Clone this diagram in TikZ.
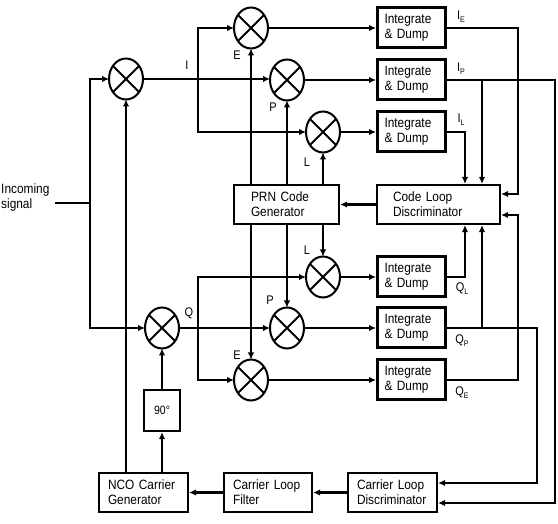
\documentclass[tikz,border=0pt]{standalone}
\usepackage{fontspec}
\setmainfont{Liberation Sans}[FakeStretch=0.88]
\usetikzlibrary{shapes.geometric,arrows.meta,calc}
\newcommand\sublab[2]{#1\raisebox{-3pt}{\fontsize{8}{8}\selectfont #2}}
\begin{document}
\begin{tikzpicture}[x=1pt,y=-1pt,
  every node/.style={font=\fontsize{13.5}{15}\selectfont},
  conn/.style={line width=2.5pt},
  arr/.style={conn,-{Latex[length=7pt,width=6.5pt]}},
  mixer/.style={ellipse,draw,line width=2pt,minimum width=34pt,minimum height=41pt,inner sep=0pt,outer sep=0pt},
  idbox/.style={draw,line width=3pt,minimum height=40pt,align=left,text width=54pt,inner xsep=7pt,inner ysep=0pt},
  blk/.style={draw,line width=2.2pt,minimum height=39pt,align=left,inner ysep=0pt},
  lbl/.style={inner sep=0pt,font=\fontsize{12.5}{14}\selectfont}]
\useasboundingbox (0,0) rectangle (558,524);

% mixers
\node[mixer] (mI)  at (126,79) {};
\node[mixer] (mQ)  at (162,328) {};
\node[mixer] (mEu) at (251,28) {};
\node[mixer] (mPu) at (287,80) {};
\node[mixer] (mLu) at (323,132) {};
\node[mixer] (mLd) at (323,277) {};
\node[mixer] (mPd) at (287,328) {};
\node[mixer] (mEd) at (251,380) {};
\foreach \m in {mI,mQ,mEu,mPu,mLu,mLd,mPd,mEd}{
  \draw[line width=2pt] (\m.45) -- (\m.225) (\m.135) -- (\m.315);
}

% integrate & dump boxes
\node[idbox] (idE)  at (411.5,28)  {Integrate\\\& Dump};
\node[idbox] (idP)  at (411.5,80)  {Integrate\\\& Dump};
\node[idbox] (idL)  at (411.5,132) {Integrate\\\& Dump};
\node[idbox] (idQL) at (411.5,277) {Integrate\\\& Dump};
\node[idbox] (idQP) at (411.5,328) {Integrate\\\& Dump};
\node[idbox] (idQE) at (411.5,380) {Integrate\\\& Dump};

% other blocks
\node[blk,text width=71pt,inner xsep=17pt] (prn) at (286.5,204.5) {PRN Code\\Generator};
\node[blk,text width=91pt,inner xsep=16pt] (cld) at (438.5,204.5) {Code Loop\\Discriminator};
\node[blk,text width=71pt,inner xsep=9pt] (cldisc) at (392.5,492.5) {Carrier Loop\\Discriminator};
\node[blk,text width=70pt,inner xsep=9pt] (clf) at (268,492.5) {Carrier Loop\\Filter};
\node[blk,text width=71pt,inner xsep=9pt] (nco) at (143.5,492.5) {NCO Carrier\\Generator};
\node[blk,minimum width=36pt,minimum height=41pt,inner sep=0pt,align=center,font=\fontsize{12}{14}\selectfont] (n90) at (162,410.5) {90°};

% incoming signal
\node[anchor=west,inner xsep=1pt,inner ysep=0pt,align=left] (inc) at (0,197.5) {Incoming\\signal};
\coordinate (inS) at (55,203);
\coordinate (jIn) at (90,203);
\draw[conn] (inS) -- (jIn);
\draw[arr] (jIn) |- (mI);
\draw[arr] (jIn) |- (mQ);

% I branch
\coordinate (jI) at (198,79);
\draw[arr] (mI) -- (mPu.west |- mI);
\draw[arr] (jI) |- (mEu);
\draw[arr] (jI) |- (mLu);
% Q branch
\coordinate (jQ) at (198,328);
\draw[arr] (mQ) -- (mPd);
\draw[arr] (jQ) |- (mLd);
\draw[arr] (jQ) |- (mEd);

% mixers to I&D
\draw[arr] (mEu) -- (idE);
\draw[arr] (mPu) -- (idP);
\draw[arr] (mLu) -- (idL);
\draw[arr] (mLd) -- (idQL);
\draw[arr] (mPd) -- (idQP);
\draw[arr] (mEd) -- (idQE);

% PRN code replicas
\draw[arr] (prn.north -| mEu) -- (mEu);
\draw[arr] (prn.north -| mPu) -- (mPu);
\draw[arr] (prn.north -| mLu) -- (mLu);
\draw[arr] (prn.south -| mEd) -- (mEd);
\draw[arr] (prn.south -| mPd) -- (mPd);
\draw[arr] (prn.south -| mLd) -- (mLd);
\draw[arr] (cld) -- (prn);

% I&D outputs
\draw[arr] (idE.east) -| (518,194) -- (cld.east |- 0,194);
\draw[arr] (idP.east) -| (555,503) -- (cldisc.east |- 0,503);
\draw[arr] (482,80) -- (cld.north -| 482,0);
\draw[arr] (idL.east) -| (cld.north -| 465,0);
\draw[arr] (idQL.east) -| (cld.south -| 465,0);
\draw[arr] (idQP.east) -| (537,483) -- (cldisc.east |- 0,483);
\draw[arr] (482,328) -- (cld.south -| 482,0);
\draw[arr] (idQE.east) -| (518,215) -- (cld.east |- 0,215);

% carrier loop
\draw[arr] (cldisc) -- (clf);
\draw[arr] (clf) -- (nco);
\draw[arr] (nco.north -| mI) -- (mI);
\draw[arr] (nco.north -| n90) -- (n90);
\draw[arr] (n90) -- (mQ);

% labels
\node[lbl] (lI) at (187,65) {I};
\node[lbl] (lQ) at (189,313) {Q};
\node[lbl] (lEu) at (237,55) {E};
\node[lbl] (lPu) at (273,107) {P};
\node[lbl] (lLu) at (307,162) {L};
\node[lbl] (lLd) at (307,250) {L};
\node[lbl] (lPd) at (270,300) {P};
\node[lbl] (lEd) at (237,355) {E};
\node[lbl] (sIE) at (461,17) {\sublab{I}{E}};
\node[lbl] (sIP) at (461,69) {\sublab{I}{P}};
\node[lbl] (sIL) at (461,120) {\sublab{I}{L}};
\node[lbl] (sQL) at (462,289) {\sublab{Q}{L}};
\node[lbl] (sQP) at (462,341) {\sublab{Q}{P}};
\node[lbl] (sQE) at (462,393) {\sublab{Q}{E}};
\end{tikzpicture}
\end{document}
